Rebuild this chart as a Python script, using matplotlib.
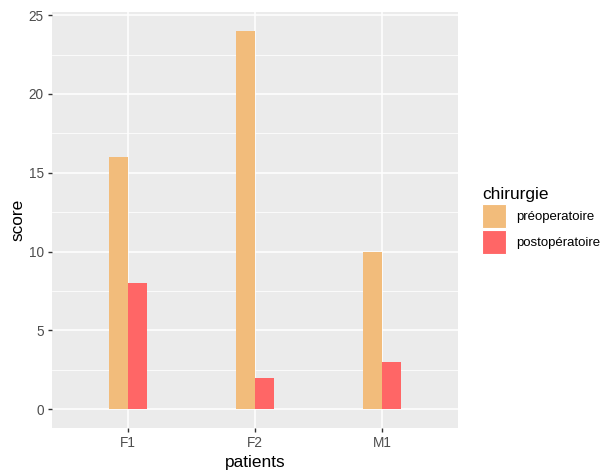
import matplotlib
matplotlib.use("Agg")
import matplotlib.pyplot as plt
import numpy as np
from matplotlib.patches import Patch

patients = ["F1", "F2", "M1"]
preop = [16, 24, 10]
postop = [8, 2, 3]
series_labels = ["préoperatoire", "postopératoire"]
colors = ["#F2BC7B", "#FF6666"]
yticks = [0, 5, 10, 15, 20, 25]

plt.rcParams['font.family'] = ['Liberation Sans', 'DejaVu Sans']

fig = plt.figure(figsize=(6.05, 4.70), dpi=100)
ax = fig.add_axes([52/605, 1 - 428/470, (458-52)/605, (428-12)/470])
ax.set_facecolor("#EBEBEB")

x = np.arange(len(patients))
w = 0.15
ax.bar(x - w/2, preop, width=w, color=colors[0], zorder=3)
ax.bar(x + w/2, postop, width=w, color=colors[1], zorder=3)

ax.set_xlim(-0.6, len(patients) - 1 + 0.6)
ax.set_ylim(-1.2, 25.2)
ax.set_xticks(x)
ax.set_xticklabels(patients)
ax.set_yticks(yticks)
ax.set_yticks([2.5, 7.5, 12.5, 17.5, 22.5], minor=True)

ax.grid(True, which="major", color="white", linewidth=1.1, zorder=1)
ax.grid(True, which="minor", axis="y", color="white", linewidth=0.55, zorder=1)
for s in ax.spines.values():
    s.set_visible(False)
ax.tick_params(which="major", length=3, width=1, color="#333333", labelcolor="#4D4D4D", labelsize=9.8, pad=3)
ax.tick_params(which="minor", length=0)

ax.set_xlabel("patients", fontsize=12.4, color="black", labelpad=3)
ax.set_ylabel("score", fontsize=12.4, color="black", labelpad=2)

handles = [Patch(facecolor=c, edgecolor="white", linewidth=0.8) for c in colors]
leg = fig.legend(handles, series_labels, title="chirurgie", loc="upper left",
                 bbox_to_anchor=(482/605, 1 - 187/470), frameon=False,
                 fontsize=9.5, title_fontsize=12.4, handlelength=1.82, handleheight=2.42,
                 handletextpad=0.76, labelspacing=0.16, borderaxespad=0, borderpad=0)
leg._legend_box.align = "left"

fig.savefig("out.png", dpi=100)
